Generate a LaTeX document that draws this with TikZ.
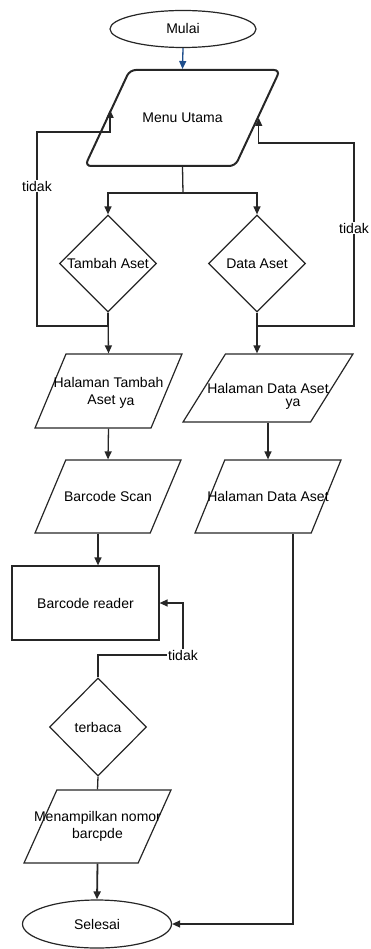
\documentclass[tikz,border=0pt]{standalone}
\usepackage{fontspec}
\setmainfont{Liberation Sans}
\usetikzlibrary{shapes.geometric,arrows.meta,calc}
\definecolor{linkblue}{RGB}{31,78,140}

\begin{document}
\begin{tikzpicture}[x=1pt, y=-1pt, font=\fontsize{14}{17}\selectfont,
	line/.style={draw=black!85, line width=1.3pt},
	flow/.style={line, -{Triangle[length=8pt,width=7pt]}},
	io/.style={trapezium, trapezium left angle=70, trapezium right angle=110,
		trapezium stretches, draw=black!85, line width=1.2pt, inner sep=2pt,
		minimum width=146pt, minimum height=73pt},
	choice/.style={diamond, draw=black!85, line width=1.2pt, inner sep=0pt,
		minimum width=97pt, minimum height=97pt},
	term/.style={ellipse, draw=black!85, line width=1.2pt, inner sep=0pt},
	lbl/.style={fill=white, inner sep=1pt}]
	\useasboundingbox (0,0) rectangle (371,949);

	% terminals and blocks
	\node[term, minimum width=146pt, minimum height=37pt] (start) at (183,29) {Mulai};
	\node[io, trapezium left angle=67, trapezium right angle=113,
		minimum width=195pt, minimum height=96pt, line width=2pt,
		rounded corners=6pt, label=center:Menu Utama] (menu) at (182.5,118) {};

	\node[choice, label=center:Tambah Aset] (dTambah) at (108,263.5) {};
	\node[choice, label=center:Data Aset] (dData) at (257,263.5) {};

	\node[io, minimum width=147pt, minimum height=74pt,
		label={[align=center]center:{Halaman Tambah\\Aset\hspace*{14pt}}}] (pTambah) at (108.5,391) {};
	\node (yaL) at (127,403) {ya};
	\node[io, trapezium left angle=63.5, trapezium right angle=116.5,
		minimum width=170pt, minimum height=68pt,
		label=center:Halaman Data Aset] (pData) at (268,388) {};
	\node (yaR) at (293,404) {ya};

	\node[io, label=center:Barcode Scan] (scan) at (108,496.5) {};
	\node[io, trapezium left angle=71, trapezium right angle=109,
		label=center:Halaman Data Aset] (pData2) at (268,496.5) {};

	\node[rectangle, draw=black!85, line width=1.2pt, minimum width=147pt,
		minimum height=74pt] (reader) at (85.5,603) {Barcode reader};
	\node[choice, minimum height=98pt, label=center:terbaca] (terbaca) at (98,727) {};
	\node[io, trapezium left angle=68, trapezium right angle=112, minimum width=147pt,
		label={[align=center]center:{Menampilkan nomor\\barcpde}}] (tampil) at (97.5,826.5) {};
	\node[term, minimum width=149pt, minimum height=48pt] (end) at (97,924) {Selesai};

	% connectors
	\coordinate (fork) at (183,193);
	\coordinate (menuL) at ($(menu.top left corner)!0.417!(menu.bottom left corner)$);
	\draw[flow, draw=linkblue] (start.south) -- (menu.north);
	\draw[line] (menu.south) -- (fork);
	\draw[flow] (fork) -| (dTambah.north);
	\draw[flow] (fork) -| (dData.north);

	\draw[flow] (dTambah.south) |- (37,326) -- node[lbl, pos=0.72] {tidak} (37,132) -| (menuL);
	\draw[flow] (dData.south) |- (354,326) -- node[lbl, pos=0.535] {tidak} (354,143) -| (menu.east);

	\draw[flow] (dTambah.south) -- (pTambah.north);
	\draw[flow] (dData.south) -- (dData.south |- pData.north);
	\draw[flow] (pTambah.south) -- (scan.north);
	\draw[flow] (pData.south) -- (pData2.north);
	\draw[flow] (scan.south -| terbaca.north) -- (reader.north -| terbaca.north);

	\draw[flow] (terbaca.north) |- (183,655) node[lbl] {tidak} |- (reader.east);
	\draw[line] (terbaca.south) -- (tampil.north);
	\draw[flow, line width=1.8pt] (tampil.south) -- (end.north);
	\draw[flow] ($(pData2.south)+(25,0)$) |- (end.east);
\end{tikzpicture}
\end{document}
